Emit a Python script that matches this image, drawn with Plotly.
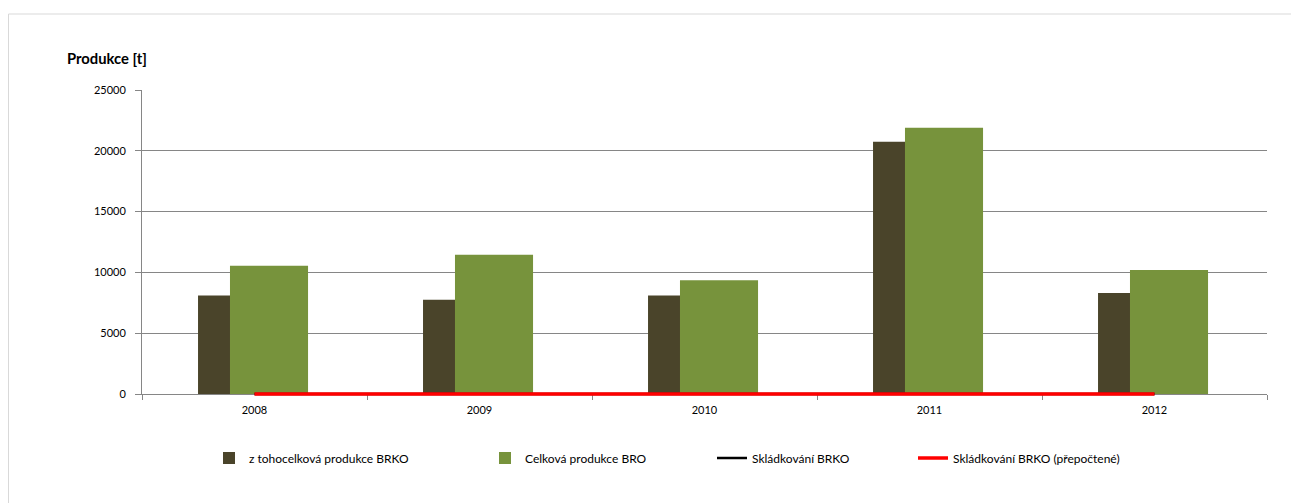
import plotly.graph_objects as go

years = ["2008", "2009", "2010", "2011", "2012"]
brko = [8100, 7750, 8100, 20750, 8300]
bro = [10550, 11450, 9350, 21900, 10200]
skladkovani = [0, 0, 0, 0, 0]
skladkovani_prepoctene = [0, 0, 0, 0, 0]
y_ticks = [0, 5000, 10000, 15000, 20000, 25000]

FONT = "Lato, 'Open Sans', sans-serif"
EXTRA = 4          # px below the x axis available to the line subplot
PLOT_H = 304
D = EXTRA / (PLOT_H + EXTRA)
Y_MAX = 25000
Y2_MIN = -Y_MAX * EXTRA / PLOT_H

fig = go.Figure()

fig.add_trace(go.Bar(x=years, y=brko, name="z tohocelková produkce BRKO",
                     marker=dict(color="#4A442A", line=dict(width=0)),
                     width=0.347, offset=-0.251, legend="legend", showlegend=True))
fig.add_trace(go.Bar(x=years, y=bro, name="Celková produkce BRO",
                     marker=dict(color="#77933C", line=dict(width=0)),
                     width=0.347, offset=-0.109, legend="legend2", showlegend=True))
fig.add_trace(go.Scatter(x=years, y=skladkovani, name="Skládkování BRKO", mode="lines",
                         line=dict(color="#000000", width=2.5), legend="legend3",
                         showlegend=True, xaxis="x2", yaxis="y2"))
fig.add_trace(go.Scatter(x=years, y=skladkovani_prepoctene, name="Skládkování BRKO (přepočtené)",
                         mode="lines", line=dict(color="#FF0000", width=3.5), legend="legend4",
                         showlegend=True, xaxis="x2", yaxis="y2"))

def lx(px):
    return (px - 142) / 1125

def ly(py):
    return (398 - py) / (PLOT_H + EXTRA)

leg = dict(orientation="h", yanchor="middle", y=ly(458), xanchor="left",
           font=dict(family=FONT, size=12, color="#000"), bgcolor="rgba(0,0,0,0)",
           itemwidth=30, tracegroupgap=0)

fig.update_layout(
    width=1291, height=495,
    margin=dict(l=134, r=32, t=82, b=109 - EXTRA),
    paper_bgcolor="white", plot_bgcolor="rgba(0,0,0,0)",
    barmode="overlay", showlegend=True,
    font=dict(family=FONT, size=11, color="#000"),
    legend=dict(leg, x=lx(209)),
    legend2=dict(leg, x=lx(485)),
    legend3=dict(leg, x=lx(712)),
    legend4=dict(leg, x=lx(913)),
    xaxis=dict(type="category", showline=True, linecolor="#868686", linewidth=1,
               ticks="outside", tickson="boundaries", ticklen=5, tickcolor="#868686",
               showgrid=False, tickfont=dict(size=11, family=FONT), range=[-0.5, 4.5],
               ticklabelstandoff=6, anchor="y", domain=[0, 1]),
    yaxis=dict(range=[0, Y_MAX], tickvals=y_ticks, ticktext=[str(v) for v in y_ticks],
               domain=[D, 1], anchor="x",
               showline=True, linecolor="#868686", linewidth=1,
               ticks="outside", ticklen=6, tickcolor="#868686",
               showgrid=True, gridcolor="#868686", gridwidth=1, zeroline=False,
               tickfont=dict(size=11, family=FONT), ticklabelstandoff=7),
    xaxis2=dict(type="category", range=[-0.5, 4.5], visible=False, anchor="y2",
                domain=[0, 1], showgrid=False, zeroline=False),
    yaxis2=dict(range=[Y2_MIN, Y_MAX], domain=[0, 1], visible=False, anchor="x2",
                showgrid=False, zeroline=False),
    annotations=[dict(text="<b>Produkce [t]</b>", xref="paper", yref="paper",
                      x=lx(65), y=ly(58), xanchor="left", yanchor="middle",
                      showarrow=False, font=dict(size=14.8, family=FONT, color="#000"))],
    shapes=[dict(type="line", xref="paper", yref="paper",
                 x0=lx(8.5), x1=lx(1310), y0=ly(14), y1=ly(14),
                 line=dict(color="#D9D9D9", width=1)),
            dict(type="line", xref="paper", yref="paper",
                 x0=lx(8.5), x1=lx(8.5), y0=ly(14), y1=ly(510),
                 line=dict(color="#D9D9D9", width=1))],
)

fig.write_html("out.html")
